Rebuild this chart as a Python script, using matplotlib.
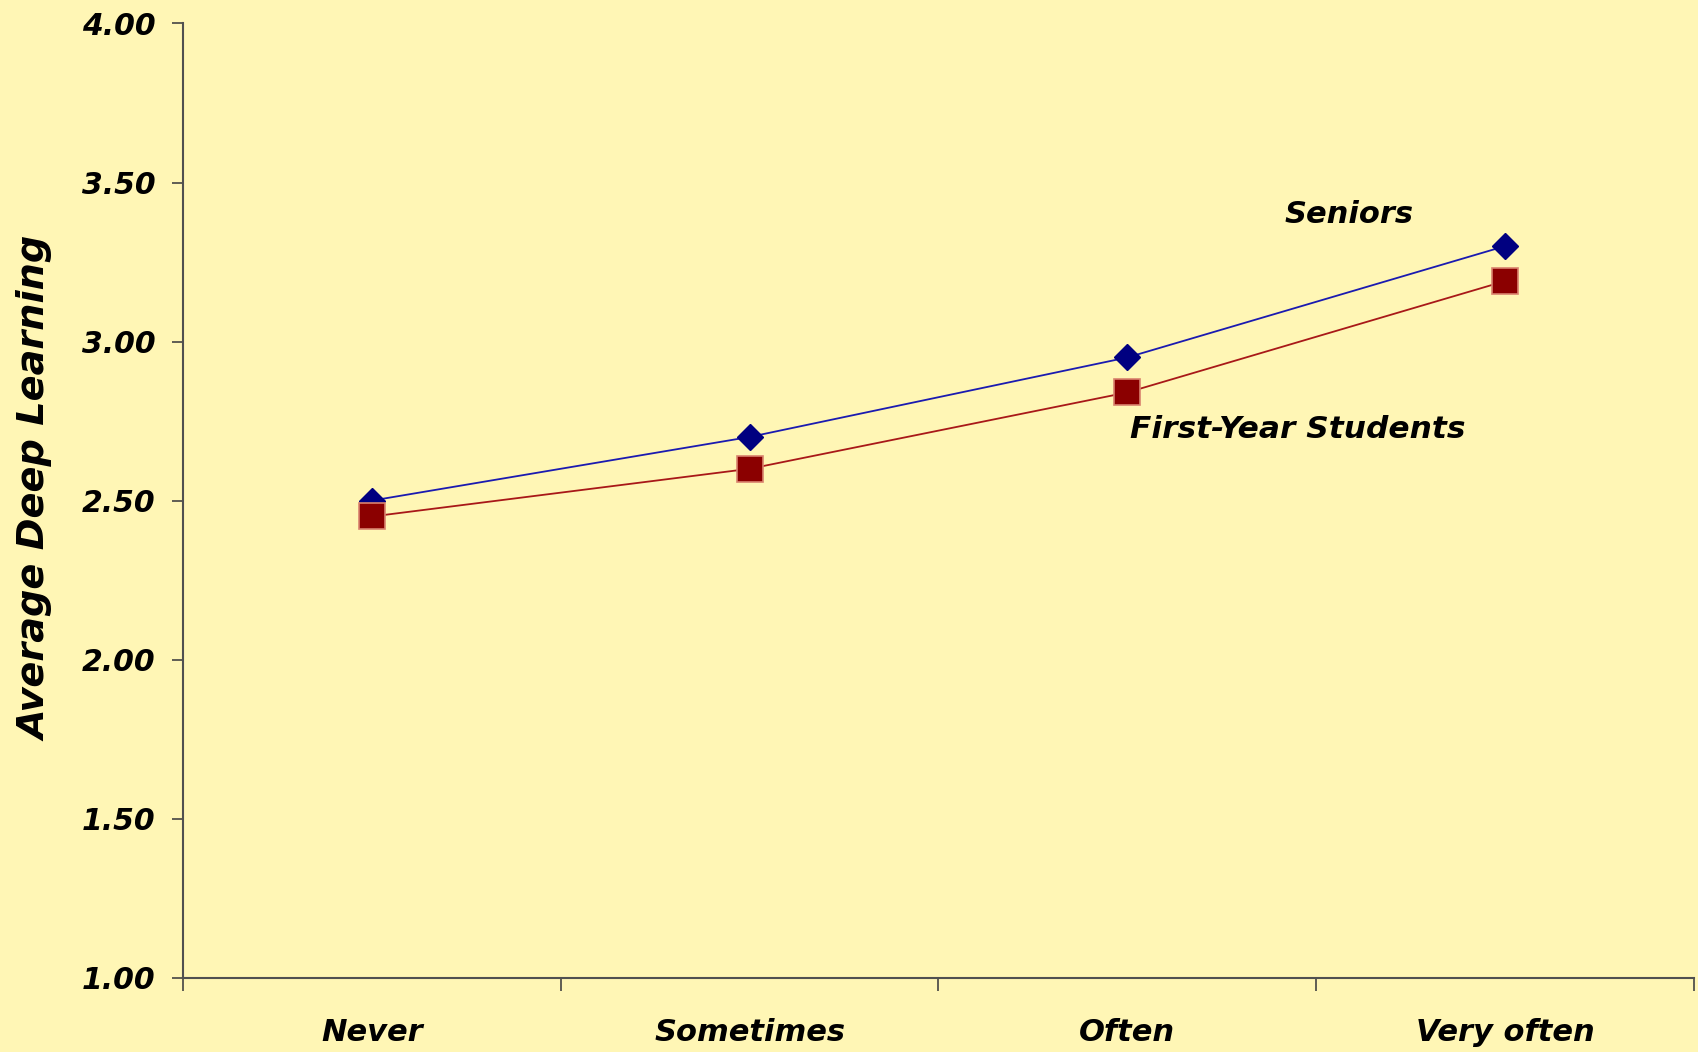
import matplotlib.pyplot as plt
from matplotlib.ticker import FixedLocator, NullFormatter, FixedFormatter

categories = ['Never', 'Sometimes', 'Often', 'Very often']
seniors = [2.50, 2.70, 2.95, 3.30]
first_year = [2.45, 2.60, 2.84, 3.19]
y_ticks = [1.00, 1.50, 2.00, 2.50, 3.00, 3.50, 4.00]

bg = '#FFF6B5'
plt.rcParams['font.family'] = ['DejaVu Sans']

fig = plt.figure(figsize=(16.99, 10.52), dpi=100, facecolor=bg)
ax = fig.add_axes([0.1077, 0.0706, 0.8893, 0.9071])
ax.set_facecolor(bg)

x = list(range(1, len(categories) + 1))
ax.plot(x, seniors, color='#1A1AB0', lw=1.3, marker='D', markersize=13,
        markerfacecolor='#000080', markeredgecolor='#000080', zorder=3)
ax.plot(x, first_year, color='#A81818', lw=1.3, marker='s', markersize=19,
        markerfacecolor='#8B0000', markeredgecolor='#D9826E', markeredgewidth=1.2, zorder=3)

ax.set_xlim(0.5, len(categories) + 0.5)
ax.set_ylim(1.0, 4.0)

# ticks at category boundaries, labels at category centres
ax.xaxis.set_major_locator(FixedLocator([i + 0.5 for i in range(len(categories) + 1)]))
ax.xaxis.set_major_formatter(NullFormatter())
ax.xaxis.set_minor_locator(FixedLocator(x))
ax.xaxis.set_minor_formatter(FixedFormatter(categories))
ax.tick_params(axis='x', which='major', direction='out', length=9, width=1.2, color='#444444')
ax.tick_params(axis='x', which='minor', length=0, pad=29)

ax.set_yticks(y_ticks)
ax.set_yticklabels([f'{v:.2f}' for v in y_ticks])
ax.tick_params(axis='y', direction='out', length=8, width=1.2, color='#444444', pad=12)

for lab in ax.get_xticklabels(minor=True):
    lab.set_fontsize(22)
    lab.set_fontweight('bold')
    lab.set_fontstyle('italic')
for lab in ax.get_yticklabels():
    lab.set_fontsize(21.5)
    lab.set_fontweight('bold')
    lab.set_fontstyle('italic')

for s in ['top', 'right']:
    ax.spines[s].set_visible(False)
for s in ['left', 'bottom']:
    ax.spines[s].set_color('#505050')
    ax.spines[s].set_linewidth(1.5)

fig.text(0.0212, 0.535, 'Average Deep Learning', rotation=90, ha='center', va='center',
         fontsize=27.5, fontweight='bold', fontstyle='italic')

ax.text(3.587, 3.398, 'Seniors', ha='center', va='center',
        fontsize=22, fontweight='bold', fontstyle='italic')
ax.text(3.451, 2.722, 'First-Year Students', ha='center', va='center',
        fontsize=22.5, fontweight='bold', fontstyle='italic')

fig.savefig('out.png', dpi=100, facecolor=bg)
